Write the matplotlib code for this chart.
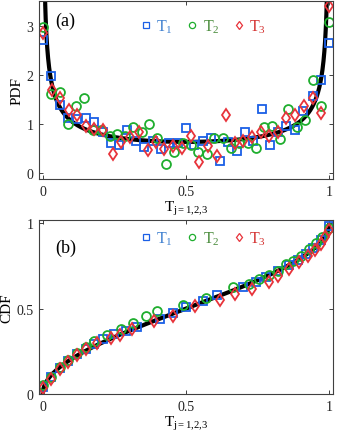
import numpy as np
import matplotlib
matplotlib.use("Agg")
import matplotlib.pyplot as plt
from matplotlib.lines import Line2D

plt.rcParams['font.family'] = ['Liberation Serif', 'DejaVu Serif']
plt.rcParams['mathtext.fontset'] = 'custom'
plt.rcParams['mathtext.rm'] = 'Liberation Serif'
plt.rcParams['mathtext.it'] = 'Liberation Serif:italic'

# ---- PDF data (panel a) ----
pdf_x1 = [0.0, 0.029, 0.06, 0.09, 0.12, 0.15, 0.18, 0.21, 0.237, 0.266, 0.295, 0.324, 0.355, 0.384,
          0.413, 0.442, 0.471, 0.5, 0.529, 0.558, 0.587, 0.619, 0.648, 0.677, 0.706, 0.735, 0.764,
          0.793, 0.822, 0.851, 0.88, 0.909, 0.942, 0.971, 1.0]
pdf_y1 = [2.70, 1.97, 1.38, 1.13, 1.11, 1.13, 1.05, 0.84, 0.62, 0.58, 0.88, 0.66, 0.54, 0.66,
          0.50, 0.62, 0.62, 0.92, 0.58, 0.66, 0.71, 0.24, 0.64, 0.45, 0.83, 0.66, 1.30,
          0.58, 0.84, 0.96, 0.88, 1.27, 1.57, 1.89, 2.65]
pdf_x2 = [0.0, 0.029, 0.06, 0.087, 0.116, 0.144, 0.174, 0.203, 0.235, 0.258, 0.287, 0.316, 0.345,
          0.372, 0.40, 0.43, 0.46, 0.488, 0.517, 0.543, 0.572, 0.599, 0.628, 0.657, 0.686, 0.717,
          0.744, 0.772, 0.799, 0.828, 0.857, 0.886, 0.915, 0.942, 0.97, 1.0]
pdf_y2 = [2.97, 1.61, 1.66, 1.00, 1.36, 1.52, 0.88, 0.88, 0.75, 0.79, 0.76, 0.95, 0.84,
          1.00, 0.71, 0.18, 0.43, 0.61, 0.57, 0.43, 0.39, 0.71, 0.71, 0.52, 0.62, 0.61,
          0.51, 0.95, 0.96, 0.69, 1.30, 0.93, 1.09, 1.90, 1.36, 3.08]
pdf_x3 = [0.0, 0.031, 0.06, 0.092, 0.12, 0.151, 0.18, 0.209, 0.244, 0.273, 0.305, 0.337, 0.366,
          0.395, 0.424, 0.456, 0.486, 0.517, 0.547, 0.578, 0.609, 0.64, 0.671, 0.70, 0.731, 0.762,
          0.791, 0.82, 0.849, 0.88, 0.912, 0.942, 0.973, 1.0]
pdf_y3 = [2.86, 1.70, 1.52, 1.28, 1.19, 0.96, 0.90, 0.88, 0.40, 0.64, 0.73, 0.83, 0.48,
          0.64, 0.50, 0.56, 0.52, 0.76, 0.22, 0.56, 0.35, 1.18, 0.62, 0.66, 0.73, 0.83,
          0.76, 0.84, 1.13, 1.18, 1.36, 1.54, 1.22, 3.41]

# ---- CDF data (panel b) ----
cdf_x1 = [0.0, 0.03, 0.06, 0.09, 0.12, 0.15, 0.18, 0.21, 0.25, 0.29, 0.33, 0.41, 0.456, 0.5,
          0.56, 0.61, 0.70, 0.745, 0.78, 0.82, 0.86, 0.89, 0.92, 0.945, 0.97, 1.0]
cdf_y1 = [0.04, 0.10, 0.15, 0.195, 0.235, 0.265, 0.295, 0.325, 0.35, 0.37, 0.395, 0.44, 0.475, 0.51,
          0.545, 0.58, 0.625, 0.655, 0.685, 0.72, 0.755, 0.785, 0.82, 0.855, 0.90, 0.985]
cdf_x2 = [0.0, 0.03, 0.06, 0.09, 0.12, 0.15, 0.18, 0.223, 0.272, 0.316, 0.36, 0.40, 0.49, 0.57,
          0.665, 0.72, 0.756, 0.79, 0.82, 0.85, 0.875, 0.90, 0.93, 0.955, 0.975, 1.0]
cdf_y2 = [0.05, 0.10, 0.16, 0.20, 0.24, 0.275, 0.31, 0.345, 0.38, 0.415, 0.455, 0.485, 0.52, 0.56,
          0.625, 0.645, 0.675, 0.70, 0.72, 0.76, 0.78, 0.81, 0.85, 0.885, 0.92, 0.975]
cdf_x3 = [0.0, 0.03, 0.06, 0.09, 0.12, 0.15, 0.19, 0.24, 0.27, 0.31, 0.39, 0.456, 0.53, 0.62,
          0.67, 0.73, 0.79, 0.82, 0.86, 0.895, 0.925, 0.95, 0.97, 0.985, 1.0]
cdf_y3 = [0.035, 0.09, 0.145, 0.19, 0.23, 0.265, 0.30, 0.33, 0.345, 0.38, 0.43, 0.46, 0.515, 0.55,
          0.585, 0.615, 0.655, 0.69, 0.735, 0.775, 0.81, 0.845, 0.88, 0.92, 0.96]

labels = [r'$\mathrm{T}_1$', r'$\mathrm{T}_2$', r'$\mathrm{T}_3$']
mcolors = ['#1a5fe6', '#1fae2e', '#e8333a']
tcolors = ['#3f80d0', '#4a8c3c', '#d4302f']
markers = ['s', 'o', 'd']
msizes = [5.3, 6.4, 6.4]
xlab = r'$\mathrm{T}_{\mathrm{j{=}1{,}2{,}3}}$'

# theoretical arcsine law
xt = np.linspace(0.0003, 0.9997, 2000)
pdf_t = 1.0 / (np.pi * np.sqrt(xt * (1 - xt)))
cdf_t = 2.0 / np.pi * np.arcsin(np.sqrt(xt))

fig = plt.figure(figsize=(3.39, 4.35), dpi=100)
ax1 = fig.add_axes([0.115, 0.586, 0.867, 0.409])
ax2 = fig.add_axes([0.115, 0.092, 0.867, 0.4])

def style(ax):
    for s in ax.spines.values():
        s.set_color('#404040')
        s.set_linewidth(0.8)
    ax.tick_params(direction='in', top=True, right=True, length=3, width=0.6,
                   labelsize=10, colors='#222222', pad=4)

# Panel a
ax1.plot(xt, pdf_t, color='black', lw=3.0, zorder=1)
for xs, ys, c, m, ms in zip([pdf_x1, pdf_x2, pdf_x3], [pdf_y1, pdf_y2, pdf_y3], mcolors, markers, msizes):
    ax1.plot(xs, ys, linestyle='none', marker=m, ms=ms, mfc='none', mec=c, mew=1.3, zorder=2)
ax1.set_xlim(-0.013, 1.013)
ax1.set_ylim(-0.12, 3.5)
ax1.set_xticks([0, 0.5, 1])
ax1.set_xticklabels(['0', '0.5', '1'])
ax1.set_yticks([0, 1, 2, 3])
ax1.set_ylabel('PDF', fontsize=11, labelpad=2)
ax1.set_xlabel(xlab, fontsize=11, labelpad=1)
ax1.text(0.055, 0.89, '(a)', transform=ax1.transAxes, fontsize=13, va='center', ha='left')
style(ax1)

# Panel b
ax2.plot(xt, cdf_t, color='black', lw=3.0, zorder=1)
for xs, ys, c, m, ms in zip([cdf_x1, cdf_x2, cdf_x3], [cdf_y1, cdf_y2, cdf_y3], mcolors, markers, msizes):
    ax2.plot(xs, ys, linestyle='none', marker=m, ms=ms, mfc='none', mec=c, mew=1.3, zorder=2)
ax2.set_xlim(-0.013, 1.013)
ax2.set_ylim(0, 1.02)
ax2.set_xticks([0, 0.5, 1])
ax2.set_xticklabels(['0', '0.5', '1'])
ax2.set_yticks([0, 0.5, 1])
ax2.set_yticklabels(['0', '0.5', '1'])
ax2.set_ylabel('CDF', fontsize=11, labelpad=2)
ax2.set_xlabel(xlab, fontsize=11, labelpad=1)
ax2.text(0.055, 0.845, '(b)', transform=ax2.transAxes, fontsize=13, va='center', ha='left')
style(ax2)

# legends
for ax, anchor in [(ax1, (0.56, 0.86)), (ax2, (0.56, 0.895))]:
    handles = [Line2D([], [], linestyle='none', marker=m, ms=ms * 0.7, mfc='none', mec=c, mew=0.9)
               for m, c, ms in zip(markers, mcolors, msizes)]
    leg = ax.legend(handles, labels, ncol=3, loc='center', bbox_to_anchor=anchor,
                    frameon=False, fontsize=11.5, handlelength=0.6, handletextpad=0.35,
                    columnspacing=0.9, borderpad=0.2)
    for t, c in zip(leg.get_texts(), tcolors):
        t.set_color(c)

fig.savefig('out.png', dpi=100)
